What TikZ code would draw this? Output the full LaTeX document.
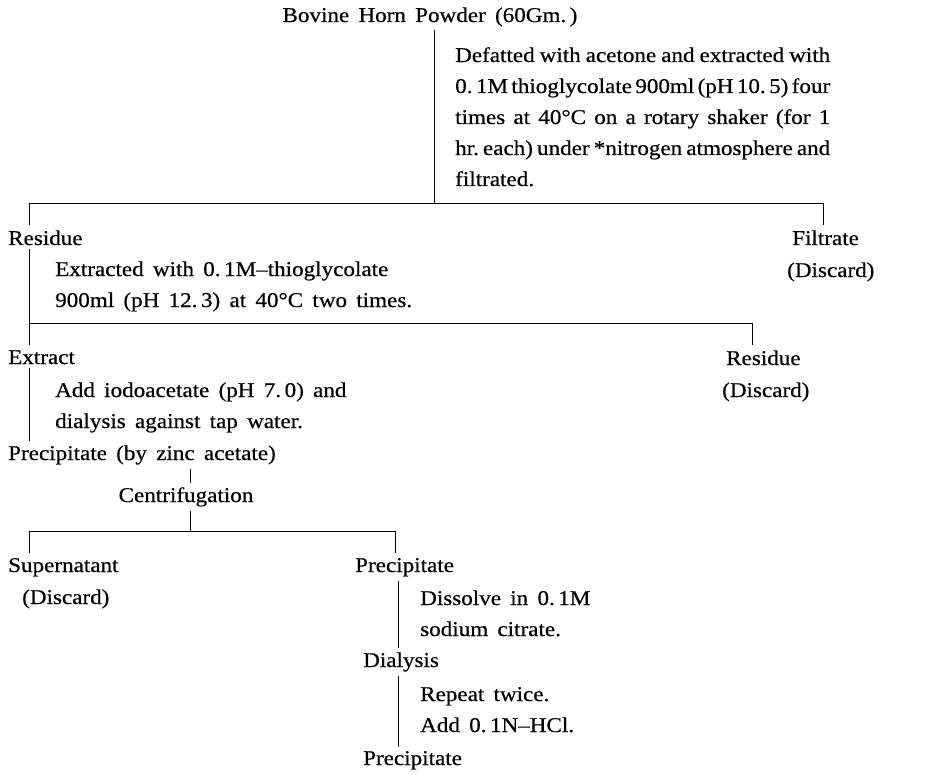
\documentclass[tikz,border=0pt]{standalone}
\usepackage{fontspec}
\setmainfont[FakeStretch=1.1,FakeBold=0.5,WordSpace={1.6,1.6,3.5}]{Liberation Serif}
\newcommand{\jline}[1]{\makebox[375pt][s]{#1}}
\begin{document}
\begin{tikzpicture}[x=1pt,y=-1pt,
  txt/.style={anchor=base west,inner sep=0pt,align=left,font=\fontsize{21}{31}\selectfont\frenchspacing},
  conn/.style={line width=0.8pt}]
\useasboundingbox (0,0) rectangle (925,775);
% multi-line texts sit on the baseline of their last line
\node[txt,anchor=base] (bovine) at (430,22) {Bovine Horn Powder (60Gm.\,)};
\node[txt] (defat) at (455,186) {\jline{Defatted with acetone and extracted with}\\
  \jline{0.\,1M thioglycolate 900ml (pH 10.\,5) four}\\
  \jline{times at 40°C on a rotary shaker (for 1}\\
  \jline{hr. each) under *nitrogen atmosphere and}\\
  filtrated.};
\node[txt] (res1) at (8,245) {Residue};
\node[txt] (filt1) at (792,245) {Filtrate};
\node[txt] (disc1) at (787,277) {(Discard)};
\node[txt] (extr1) at (55,307) {Extracted with 0.\,1M--thioglycolate\\
  900ml (pH 12.\,3) at 40°C two times.};
\node[txt] (extract) at (8,364) {Extract};
\node[txt] (res2) at (726,365) {Residue};
\node[txt] (disc2) at (722,397) {(Discard)};
\node[txt] (iodo) at (55,428) {Add iodoacetate (pH 7.\,0) and\\
  dialysis against tap water.};
\node[txt] (prec1) at (8,460) {Precipitate (by zinc acetate)};
\node[txt,anchor=base] (centri) at (186,502) {Centrifugation};
\node[txt] (supern) at (8,572) {Supernatant};
\node[txt] (disc3) at (22,604) {(Discard)};
\node[txt] (prec2) at (355,572) {Precipitate};
\node[txt] (dissolve) at (420,636) {Dissolve in 0.\,1M\\
  sodium citrate.};
\node[txt] (dial) at (363,667) {Dialysis};
\node[txt] (repeat) at (420,732) {Repeat twice.\\
  Add 0.\,1N--HCl.};
\node[txt] (prec3) at (363,765) {Precipitate};
\coordinate (j1) at (434,203);
\coordinate (c1l) at (29,203);
\coordinate (c1r) at (823,203);
\coordinate (c2l) at (29,323);
\coordinate (c2r) at (752,323);
\coordinate (c3) at (190,531);
\coordinate (c3l) at (29,531);
\coordinate (c3r) at (395,531);
\coordinate (c4) at (398,572);
\draw [conn,shorten <=3pt] (bovine.south -| j1)-- (j1);
\draw [conn,shorten <=5pt,shorten >=5pt] (res1.north -| c1l)-- (c1l)-- (c1r)-- (filt1.north -| c1r);
\draw [conn,shorten <=4pt,shorten >=5pt] (res1.south -| c2l)-- (c2l)-- (c2r)-- (res2.north -| c2r);
\draw [conn,shorten >=5pt] (c2l)-- (extract.north -| c2l);
\draw [conn,shorten <=4pt,shorten >=4pt] (extract.south -| c2l)-- (prec1.north -| c2l);
\draw [conn,shorten <=4pt,shorten >=4pt] (prec1.south -| c3)-- (centri.north -| c3);
\draw [conn,shorten <=4pt] (centri.south -| c3)-- (c3);
\draw [conn,shorten <=5pt,shorten >=5pt] (supern.north -| c3l)-- (c3l)-- (c3r)-- (prec2.north -| c3r);
\draw [conn,shorten <=4pt,shorten >=4pt] (prec2.south -| c4)-- (dial.north -| c4);
\draw [conn,shorten <=4pt,shorten >=4pt] (dial.south -| c4)-- (prec3.north -| c4);
\end{tikzpicture}
\end{document}
